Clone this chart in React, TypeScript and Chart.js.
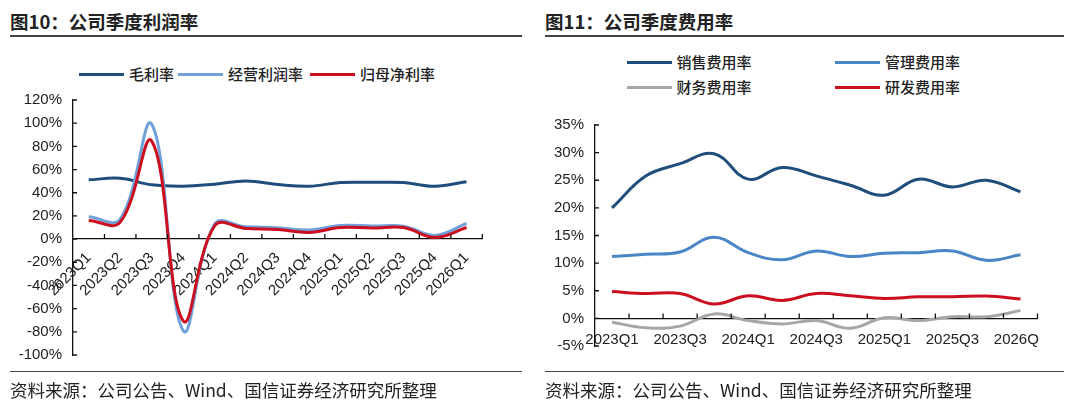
import React, { useEffect, useRef } from 'react';
import { Chart, registerables } from 'chart.js';

Chart.register(...registerables);

// ---------- data ----------
const quarters = [
  '2023Q1', '2023Q2', '2023Q3', '2023Q4',
  '2024Q1', '2024Q2', '2024Q3', '2024Q4',
  '2025Q1', '2025Q2', '2025Q3', '2025Q4',
  '2026Q1',
];

// 图10 公司季度利润率 (%)
const grossMargin = [51.1, 52.5, 46.8, 45.6, 47.4, 50.2, 47.1, 45.6, 48.8, 49.0, 48.8, 45.6, 49.4];
const operatingMargin = [19.2, 17.2, 99.0, -79.0, 12.9, 10.6, 9.8, 7.8, 11.8, 11.2, 11.2, 3.2, 13.5];
const netMargin = [16.1, 14.6, 84.5, -70.5, 11.5, 9.2, 8.3, 5.7, 10.0, 9.5, 10.0, 1.4, 10.0];
const leftYTicks = [-100, -80, -60, -40, -20, 0, 20, 40, 60, 80, 100, 120];

// 图11 公司季度费用率 (%)
const sellingRate = [20.0, 25.8, 28.0, 29.8, 25.2, 27.3, 25.8, 24.1, 22.3, 25.2, 23.8, 25.0, 22.9];
const adminRate = [11.2, 11.6, 12.0, 14.7, 11.9, 10.6, 12.2, 11.2, 11.8, 11.9, 12.2, 10.5, 11.5];
const financeRate = [-0.7, -1.7, -1.4, 0.8, -0.4, -1.0, -0.4, -1.8, 0.1, -0.4, 0.3, 0.3, 1.4];
const rdRate = [4.85, 4.5, 4.5, 2.6, 4.1, 3.25, 4.5, 4.1, 3.6, 3.9, 3.9, 4.05, 3.5];
const rightYTicks = [-5, 0, 5, 10, 15, 20, 25, 30, 35];

// ---------- styles ----------
const NAVY = '#1F4E7D';
const LIGHT_BLUE = '#6FA0DA';
const MID_BLUE = '#4A86C5';
const RED = '#CC0F1F';
const GRAY = '#A6A6A6';
const AXIS = '#111111';
const TEXT = '#222222';
const LATIN = '"Liberation Sans", Arial, sans-serif';
const CJK = '"Noto Sans CJK SC", "Noto Sans", sans-serif';

const axisTicksPlugin = {
  id: 'axisTicks',
  afterDraw(chart: any, _args: any, opts: any) {
    const { ctx, chartArea } = chart;
    const xs = chart.scales.x;
    const ys = chart.scales.y;
    const y0 = ys.getPixelForValue(0);
    const n = chart.data.labels.length;
    const w = xs.getPixelForValue(1) - xs.getPixelForValue(0);
    const start = xs.getPixelForValue(0) - w / 2;
    ctx.save();
    ctx.strokeStyle = AXIS;
    ctx.lineWidth = 1.3;
    ctx.beginPath();
    for (let i = 1; i <= n; i++) {
      const x = start + i * w;
      ctx.moveTo(x, y0);
      ctx.lineTo(x, y0 - opts.xLen);
    }
    ys.ticks.forEach((t: any) => {
      const y = ys.getPixelForValue(t.value);
      ctx.moveTo(chartArea.left, y);
      ctx.lineTo(chartArea.left + opts.yLen, y);
    });
    ctx.stroke();
    ctx.restore();
  },
};

function lineDs(label: string, data: number[], color: string, order: number) {
  return {
    label,
    data,
    borderColor: color,
    backgroundColor: color,
    borderWidth: 3,
    pointRadius: 0,
    tension: 0.4,
    fill: false,
    order,
  };
}

function baseOptions(
  yTicks: number[],
  yWidth: number,
  padding: any,
  xTicks: any,
) {
  return {
    responsive: false,
    animation: false as const,
    devicePixelRatio: 1,
    layout: { padding },
    plugins: {
      legend: { display: false },
      tooltip: { enabled: false },
      axisTicks: { xLen: 5, yLen: 4 },
    },
    scales: {
      x: {
        type: 'category' as const,
        position: { y: 0 } as any,
        offset: true,
        grid: { display: false, drawTicks: false },
        border: { display: true, color: AXIS, width: 1.3 },
        ticks: {
          autoSkip: false,
          color: TEXT,
          font: { family: LATIN, size: 15 },
          ...xTicks,
        },
      },
      y: {
        min: yTicks[0],
        max: yTicks[yTicks.length - 1],
        afterBuildTicks: (s: any) => {
          s.ticks = yTicks.map((v) => ({ value: v }));
        },
        afterFit: (s: any) => {
          s.width = yWidth;
        },
        grid: { display: false, drawTicks: false },
        border: { display: true, color: AXIS, width: 1.3 },
        ticks: {
          padding: 11,
          color: TEXT,
          font: { family: LATIN, size: 15 },
          callback: (v: any) => `${v}%`,
        },
      },
    },
  };
}

function ProfitChart() {
  const ref = useRef<HTMLCanvasElement>(null);
  useEffect(() => {
    const chart = new Chart(ref.current as HTMLCanvasElement, {
      type: 'line',
      data: {
        labels: quarters,
        datasets: [
          lineDs('毛利率', grossMargin, NAVY, 2),
          lineDs('经营利润率', operatingMargin, LIGHT_BLUE, 1),
          lineDs('归母净利率', netMargin, RED, 0),
        ],
      },
      options: baseOptions(
        leftYTicks,
        73,
        { left: 0, right: 17.7, top: 0, bottom: 0 },
        { minRotation: 45, maxRotation: 45, padding: 10 },
      ) as any,
      plugins: [axisTicksPlugin],
    });
    return () => chart.destroy();
  }, []);
  return (
    <canvas
      ref={ref}
      width={500}
      height={295}
      style={{ position: 'absolute', left: 0, top: 80, width: 500, height: 295 }}
    />
  );
}

function ExpenseChart() {
  const ref = useRef<HTMLCanvasElement>(null);
  useEffect(() => {
    const chart = new Chart(ref.current as HTMLCanvasElement, {
      type: 'line',
      data: {
        labels: quarters,
        datasets: [
          lineDs('销售费用率', sellingRate, NAVY, 3),
          lineDs('管理费用率', adminRate, MID_BLUE, 2),
          lineDs('财务费用率', financeRate, GRAY, 1),
          lineDs('研发费用率', rdRate, RED, 0),
        ],
      },
      options: baseOptions(
        rightYTicks,
        55,
        { left: 0, right: 21.7, top: 0, bottom: 0 },
        {
          minRotation: 0,
          maxRotation: 0,
          padding: 12,
          callback: (_v: any, i: number) => (i % 2 === 0 ? quarters[i] : ''),
        },
      ) as any,
      plugins: [axisTicksPlugin],
    });
    return () => chart.destroy();
  }, []);
  return (
    <div
      style={{
        position: 'absolute',
        left: 540,
        top: 105,
        width: 499,
        height: 261,
        overflow: 'hidden',
      }}
    >
      <canvas
        ref={ref}
        width={520}
        height={261}
        style={{ position: 'absolute', left: 0, top: 0, width: 520, height: 261 }}
      />
    </div>
  );
}

function LegendItem(props: { color: string; text: string; left: number; top: number }) {
  return (
    <div
      style={{
        position: 'absolute',
        left: props.left,
        top: props.top - 10,
        height: 20,
        display: 'flex',
        alignItems: 'center',
        whiteSpace: 'nowrap',
      }}
    >
      <div style={{ width: 45, height: 3, background: props.color, marginRight: 5 }} />
      <span style={{ fontSize: 15, lineHeight: '20px', color: TEXT, fontWeight: 500 }}>
        {props.text}
      </span>
    </div>
  );
}

const titleStyle: React.CSSProperties = {
  position: 'absolute',
  top: 10,
  fontSize: 18.5,
  lineHeight: '22px',
  fontWeight: 700,
  color: TEXT,
  whiteSpace: 'nowrap',
};

const footStyle: React.CSSProperties = {
  position: 'absolute',
  top: 379,
  fontSize: 17.5,
  lineHeight: '22px',
  color: TEXT,
  whiteSpace: 'nowrap',
};

export default function App() {
  return (
    <div
      style={{
        position: 'absolute',
        left: 0,
        top: 0,
        width: 1080,
        height: 405,
        background: '#ffffff',
        fontFamily: CJK,
        overflow: 'hidden',
      }}
    >
      {/* Left panel */}
      <div style={{ ...titleStyle, left: 10 }}>图10：公司季度利润率</div>
      <div style={{ position: 'absolute', left: 10, top: 35, width: 512, height: 1.5, background: '#444' }} />
      <LegendItem color={NAVY} text="毛利率" left={79} top={74} />
      <LegendItem color={LIGHT_BLUE} text="经营利润率" left={178} top={74} />
      <LegendItem color={RED} text="归母净利率" left={310} top={74} />
      <ProfitChart />
      <div style={{ position: 'absolute', left: 10, top: 370.5, width: 512, height: 1.5, background: '#444' }} />
      <div style={{ ...footStyle, left: 10 }}>资料来源：公司公告、Wind、国信证券经济研究所整理</div>

      {/* Right panel */}
      <div style={{ ...titleStyle, left: 545 }}>图11：公司季度费用率</div>
      <div style={{ position: 'absolute', left: 545, top: 35, width: 519, height: 1.5, background: '#444' }} />
      <LegendItem color={NAVY} text="销售费用率" left={626.5} top={62} />
      <LegendItem color={MID_BLUE} text="管理费用率" left={835} top={62} />
      <LegendItem color={GRAY} text="财务费用率" left={626.5} top={87} />
      <LegendItem color={RED} text="研发费用率" left={835} top={87} />
      <ExpenseChart />
      <div style={{ position: 'absolute', left: 545, top: 370.5, width: 519, height: 1.5, background: '#444' }} />
      <div style={{ ...footStyle, left: 545 }}>资料来源：公司公告、Wind、国信证券经济研究所整理</div>
    </div>
  );
}
